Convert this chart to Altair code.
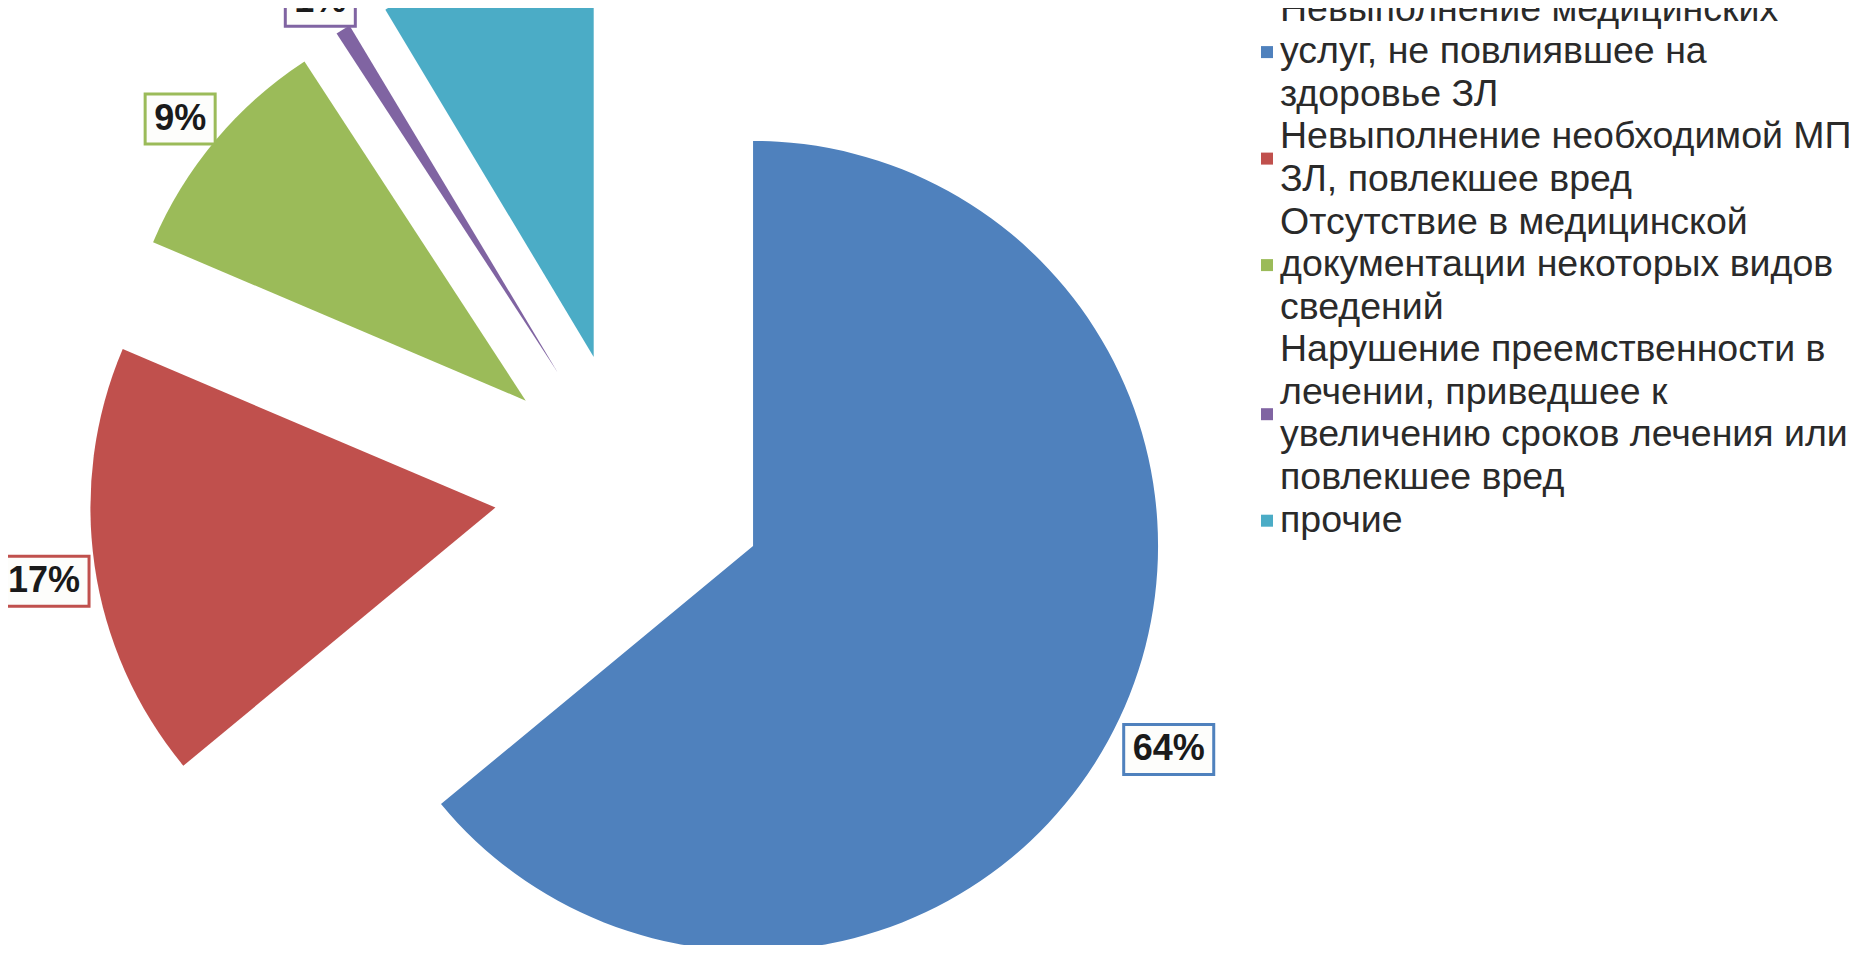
import math
import altair as alt
import pandas as pd

# ---- data ----
categories = [
    "Невыполнение медицинских услуг, не повлиявшее на здоровье ЗЛ",
    "Невыполнение необходимой МП ЗЛ, повлекшее вред",
    "Отсутствие в медицинской документации некоторых видов сведений",
    "Нарушение преемственности в лечении, приведшее к увеличению сроков лечения или повлекшее вред",
    "прочие",
]
values = [64.0, 17.4, 9.4, 0.6, 8.6]
colors = ["#4F81BD", "#C0504D", "#9BBB59", "#8064A2", "#4BACC6"]
legend_lines = [
    ["Невыполнение медицинских", "услуг, не повлиявшее на", "здоровье ЗЛ"],
    ["Невыполнение необходимой МП", "ЗЛ, повлекшее вред"],
    ["Отсутствие в медицинской", "документации некоторых видов", "сведений"],
    ["Нарушение преемственности в", "лечении, приведшее к", "увеличению сроков лечения или", "повлекшее вред"],
    ["прочие"],
]
symbol_line = [1.0, 0.5, 1.0, 1.5, 0.0]  # line (0-based) beside which the legend square sits

# ---- layout (pixels, chart coordinates) ----
CX, CY = 622, 480        # pie centre
R = 405                  # pie radius
EXPLODE = 136            # explosion distance of every slice
LABEL_GAP = 3            # gap between arc and label box
LABEL_DY = 8             # small downward nudge of the labels
LABEL_FS = 36
BOX_H = 50
LEG_X_SYM, LEG_X_TXT = 1259, 1272
LEG_TOP, LEG_LH = 1.5, 42.6
LEG_FS = 37.5

total = sum(values)
rows = []
acc = 0.0
line_acc = 0
for cat, v, lines, sl in zip(categories, values, legend_lines, symbol_line):
    t0 = acc / total * 2 * math.pi
    acc += v
    t1 = acc / total * 2 * math.pi
    mid = (t0 + t1) / 2
    sx, sy = math.sin(mid), -math.cos(mid)
    tipx = CX + EXPLODE * sx
    tipy = CY + EXPLODE * sy
    label = f"{round(v / total * 100):.0f}%"
    ndig = len(label) - 1
    box_w = (0.556 * ndig + 0.889) * LABEL_FS + 18
    extent = box_w / 2 * abs(sx) + BOX_H / 2 * abs(sy)
    dist = R + LABEL_GAP + extent
    lx = tipx + dist * sx
    ly = tipy + dist * sy + LABEL_DY
    n = len(lines)
    rows.append(dict(
        cat=cat, value=v, t0=t0, t1=t1, cx=tipx, cy=tipy,
        lx=lx, ly=ly, lx1=lx - box_w / 2, lx2=lx + box_w / 2,
        ly1=ly - BOX_H / 2, ly2=ly + BOX_H / 2,
        label=label,
        legtext="\n".join(lines),
        legy=LEG_TOP + LEG_LH * line_acc,
        symy=LEG_TOP + LEG_LH * (line_acc + sl),
        legx=LEG_X_TXT, symx=LEG_X_SYM,
    ))
    line_acc += n
df = pd.DataFrame(rows)

cscale = alt.Scale(domain=categories, range=colors)
color = alt.Color("cat:N", scale=cscale, legend=None)
base = alt.Chart(df)

arcs = base.mark_arc(radius=R, clip=True).encode(
    x=alt.X("cx:Q", scale=None),
    y=alt.Y("cy:Q", scale=None),
    theta=alt.Theta("t0:Q", scale=None, stack=None),
    theta2="t1:Q",
    color=color,
)

boxes = base.mark_rect(fill="#fdfdfb", strokeWidth=3, clip=True).encode(
    x=alt.X("lx1:Q", scale=None),
    x2="lx2:Q",
    y=alt.Y("ly1:Q", scale=None),
    y2="ly2:Q",
    stroke=alt.Stroke("cat:N", scale=cscale, legend=None),
)

labels = base.mark_text(font="Liberation Sans", fontSize=LABEL_FS, fontWeight="bold",
                        color="#1a1a1a", align="center", baseline="middle", clip=True).encode(
    x=alt.X("lx:Q", scale=None),
    y=alt.Y("ly:Q", scale=None),
    text="label:N",
)

leg_sym = base.mark_square(size=144, opacity=1, filled=True).encode(
    x=alt.X("symx:Q", scale=None),
    y=alt.Y("symy:Q", scale=None),
    color=color,
)

leg_txt = base.mark_text(font="Liberation Sans", fontSize=LEG_FS, color="#2a2a2a",
                         align="left", baseline="middle", lineBreak="\n",
                         lineHeight=LEG_LH).encode(
    x=alt.X("legx:Q", scale=None),
    y=alt.Y("legy:Q", scale=None),
    text="legtext:N",
)

chart = alt.layer(arcs, boxes, labels, leg_sym, leg_txt).properties(
    width=1841, height=937, padding=0, autosize="none",
).configure_view(stroke=None)

chart.save("out.html", embed_options={"renderer": "svg", "actions": False})
